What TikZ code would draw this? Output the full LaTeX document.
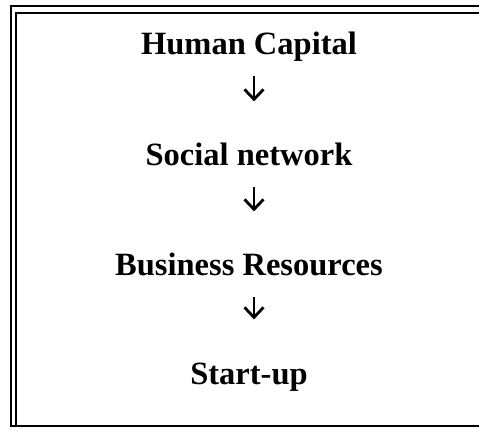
\documentclass[tikz,border=0pt]{standalone}
\usepackage{fontspec}
\setmainfont{Liberation Serif}
\usepackage{tikz}
\usetikzlibrary{arrows.meta}
\tikzset{T/.style={inner sep=0pt, anchor=base, text height=22.4pt, text depth=7pt, font=\fontsize{32.5}{39}\selectfont\bfseries}}
\tikzset{A/.style={line width=2.8pt, -{Straight Barb[length=10pt,width=19pt,line width=2.8pt]}, shorten <=14pt, shorten >=42pt}}

\begin{document}
\begin{tikzpicture}[x=1pt,y=1pt]
            \useasboundingbox (0,0) rectangle (479,-430);
            % frame
            \draw[line width=2.6pt] (11,-426) -- (11,-6) -- (495,-6);
            \draw[line width=1.6pt] (16,-426) -- (16,-13) -- (495,-13);
            \draw[line width=2.8pt] (9.7,-426) -- (495,-426);
            % steps
            \node[T] (hc) at (249,-55) {Human Capital};
            \node[T] (sn) at (249,-166) {Social network};
            \node[T] (br) at (249,-276) {Business Resources};
            \node[T] (su) at (249,-384) {Start-up};
            \draw[A] ([xshift=5pt]hc.south) -- ([xshift=5pt]sn.north);
            \draw[A] ([xshift=5pt]sn.south) -- ([xshift=5pt]br.north);
            \draw[A] ([xshift=5pt]br.south) -- ([xshift=5pt]su.north);
        \end{tikzpicture}
\end{document}
